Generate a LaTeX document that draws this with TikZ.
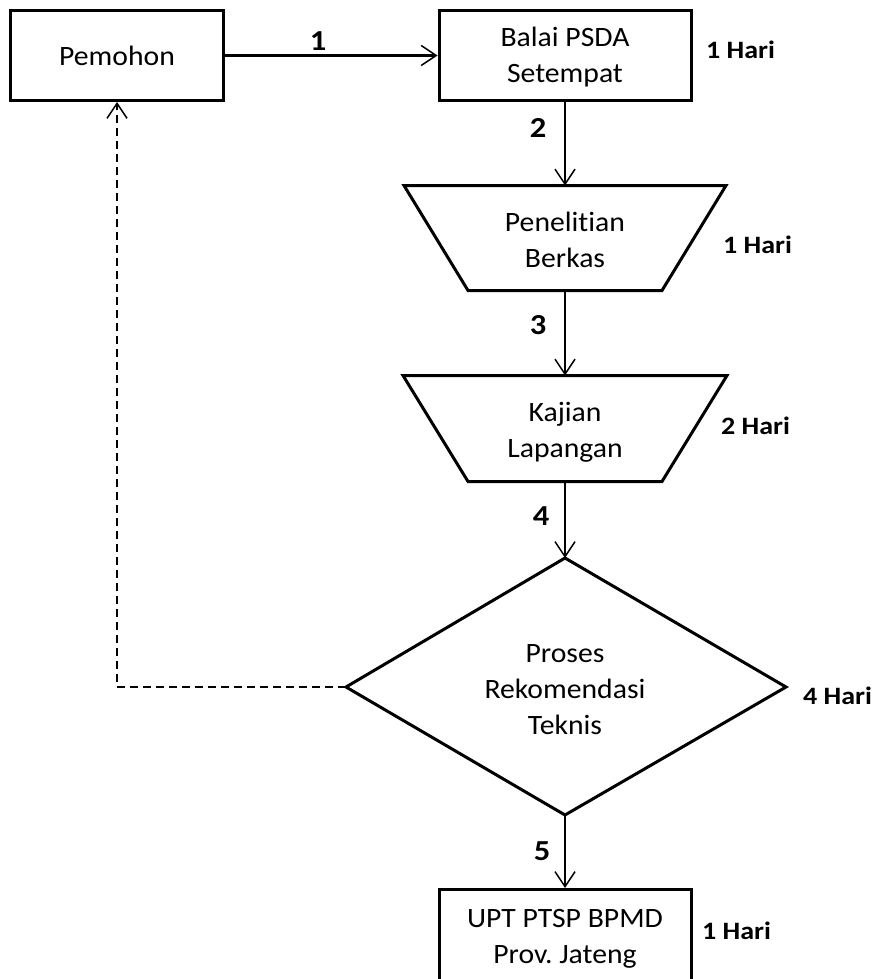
\documentclass[tikz,border=0pt]{standalone}
\usepackage{fontspec}
\setmainfont{Carlito}
\newfontfamily\regf[FakeStretch=1.06,Ligatures=NoCommon]{Carlito}
\newfontfamily\boldf[FakeStretch=1.12,Ligatures=NoCommon]{Carlito}
\usetikzlibrary{arrows.meta}
\newcommand\st{\rule[-7pt]{0pt}{27pt}}
\frenchspacing
\tikzset{
  box/.style={draw, line width=3pt, inner sep=0pt},
  shapeline/.style={draw, line width=3pt},
  txt/.style={font=\regf\fontsize{28}{36}\selectfont, align=center, inner sep=0pt},
  num/.style={font=\boldf\bfseries\fontsize{29}{34}\selectfont, inner sep=0pt, anchor=base},
  hari/.style={font=\boldf\bfseries\fontsize{25}{30}\selectfont, inner sep=0pt, anchor=base west},
  tip/.style={-{Straight Barb[length=15pt,width=20pt,line width=1.5pt]}},
  flow/.style={line width=1.5pt, tip},
  flowthick/.style={line width=2.2pt, tip},
  back/.style={line width=1.5pt, dash pattern=on 8pt off 5pt, tip}
}
\begin{document}
\begin{tikzpicture}[x=1pt,y=-1pt]
\useasboundingbox (0,0) rectangle (878,979);
\clip (0,0) rectangle (878,979);

% rectangles
\node[box, minimum width=213pt, minimum height=90pt] (pem) at (117,55.5) {};
\node[box, minimum width=252pt, minimum height=90pt] (balai) at (565,55.5) {};
\node[box, minimum width=252pt, minimum height=150pt] (upt) at (565,964.5) {};

% trapezoid 1
\coordinate (pen-t) at (565,185.5);
\coordinate (pen-b) at (565,290.5);
\draw[shapeline] ([xshift=-161pt]pen-t) -- ([xshift=161pt]pen-t) -- ([xshift=97pt]pen-b) -- ([xshift=-97pt]pen-b) -- cycle;

% trapezoid 2
\coordinate (kaj-t) at (565,375.5);
\coordinate (kaj-b) at (565,481.5);
\draw[shapeline] ([xshift=-162pt]kaj-t) -- ([xshift=162pt]kaj-t) -- ([xshift=97pt]kaj-b) -- ([xshift=-97pt]kaj-b) -- cycle;

% diamond
\coordinate (dia-t) at (565,558);
\coordinate (dia-r) at (786,687);
\coordinate (dia-b) at (565,815);
\coordinate (dia-l) at (346,687);
\draw[shapeline] (dia-t) -- (dia-r) -- (dia-b) -- (dia-l) -- cycle;

% texts
\node[txt] (pem-txt) at (117,59.5) {Pemohon\st};
\node[txt] (balai-txt) at (565,58.5) {Balai PSDA\st\\Setempat\st};
\node[txt] (pen-txt) at (565,243) {Penelitian\st\\Berkas\st};
\node[txt] (kaj-txt) at (565,432.5) {Kajian\st\\Lapangan\st};
\node[txt] (dia-txt) at (565,691.5) {Proses\st\\Rekomendasi\st\\Teknis\st};
\node[txt] (upt-txt) at (565,938.5) {UPT PTSP BPMD\st\\Prov. Jateng\st};

% connectors
\draw[flowthick] (pem.east) -- (balai.west);
\draw[flow] (balai.south) -- (pen-t);
\draw[flow] (pen-b) -- (kaj-t);
\draw[flow] (kaj-b) -- (dia-t);
\draw[flow] (dia-b) -- (upt.north);
\draw[back] (dia-l) -| (pem.south);

% step numbers
\node[num] (n1) at (318,51) {1};
\node[num] (n2) at (538,137) {2};
\node[num] (n3) at (538,334) {3};
\node[num] (n4) at (541,525) {4};
\node[num] (n5) at (542,860) {5};

% durations
\node[hari] (h1) at (706,59) {1 Hari};
\node[hari] (h2) at (723,253) {1 Hari};
\node[hari] (h3) at (721,434) {2 Hari};
\node[hari] (h4) at (803,704) {4 Hari};
\node[hari] (h5) at (702,939) {1 Hari};
\end{tikzpicture}
\end{document}
